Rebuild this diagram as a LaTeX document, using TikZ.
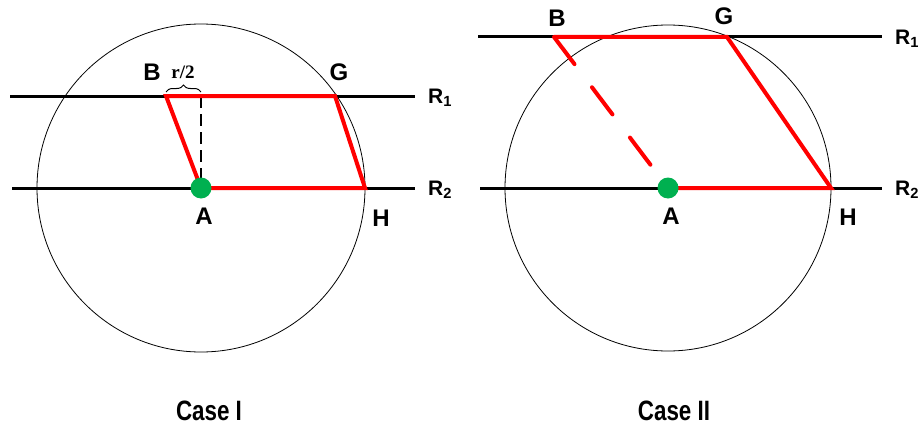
\documentclass[tikz,border=0pt]{standalone}
\usepackage{fontspec}
\setmainfont{Liberation Sans}
\newfontfamily\timesfont{Liberation Serif}
\newfontfamily\narrowfont[FakeStretch=0.8]{Liberation Sans}
\usetikzlibrary{positioning, decorations.pathreplacing}
\definecolor{casered}{HTML}{FF0000}
\definecolor{dotgreen}{HTML}{00B050}

\begin{document}
\begin{tikzpicture}[x=1pt, y=-1pt, font=\bfseries\fontsize{24}{26}\selectfont,
    rail/.style={line width=3pt},
    quad/.style={casered, line width=4pt, line join=miter},
    ring/.style={line width=0.8pt},
    dot/.style={circle, fill=dotgreen, minimum size=21pt, inner sep=0pt},
    tag/.style={inner sep=0pt},
    railtag/.style={inner sep=0pt, anchor=west, font=\bfseries\fontsize{21}{23}\selectfont},
    casetag/.style={inner sep=0pt, font=\narrowfont\bfseries\fontsize{28}{30}\selectfont}]
  \useasboundingbox (0,0) rectangle (920,428);

  % case I
  \coordinate (A1) at (201,188);
  \coordinate (B1) at (166,96);
  \coordinate (G1) at (335,96);
  \coordinate (H1) at (365,188);
  \coordinate (F1) at (201,96);
  \coordinate (L1a) at (10,96);
  \coordinate (L1b) at (415,96);
  \coordinate (L2a) at (12,188);
  \coordinate (L2b) at (415,188);
  \draw[ring] (A1) circle[radius=164];
  \draw[rail] (L1a) -- (L1b);
  \draw[rail] (L2a) -- (L2b);
  \draw[line width=1.3pt, dash pattern=on 12pt off 6pt] (F1) -- (A1);
  \draw[line width=1pt, decorate, decoration={brace, amplitude=7pt, raise=4pt}] (B1) -- (F1);
  \draw[quad] (A1) -- (H1) -- (G1) -- (B1) -- cycle;
  \node[dot] (dotA1) at (A1) {};
  \node[tag] (labB1) at (152,72) {B};
  \node[tag] (labG1) at (339,72) {G};
  \node[tag] (labA1) at (204,216) {A};
  \node[tag] (labH1) at (381,218) {H};
  \node[tag, font=\timesfont\bfseries\fontsize{19}{21}\selectfont] (half) at (183,72) {r/2};
  \node[railtag] (labR11) at (428,98) {R\textsubscript{1}};
  \node[railtag] (labR21) at (428,190) {R\textsubscript{2}};
  \node[casetag] (case1) at (209,411) {Case I};

  % case II
  \coordinate (A2) at (668,188);
  \coordinate (B2) at (554,37);
  \coordinate (G2) at (727,37);
  \coordinate (H2) at (831,188);
  \coordinate (M1a) at (478,37);
  \coordinate (M1b) at (882,37);
  \coordinate (M2a) at (480,188);
  \coordinate (M2b) at (882,188);
  \draw[ring] (A2) circle[radius=163];
  \draw[rail] (M1a) -- (M1b);
  \draw[rail] (M2a) -- (M2b);
  \draw[quad] (B2) -- (G2) -- (H2) -- (A2);
  \draw[quad, line cap=round, dash pattern=on 34pt off 29pt] (B2) -- (A2);
  \node[dot] (dotA2) at (A2) {};
  \node[tag] (labB2) at (557,18) {B};
  \node[tag] (labG2) at (724,16) {G};
  \node[tag] (labA2) at (671,216) {A};
  \node[tag] (labH2) at (848,217) {H};
  \node[railtag] (labR12) at (895,39) {R\textsubscript{1}};
  \node[railtag] (labR22) at (895,190) {R\textsubscript{2}};
  \node[casetag] (case2) at (674,411) {Case II};
\end{tikzpicture}
\end{document}
